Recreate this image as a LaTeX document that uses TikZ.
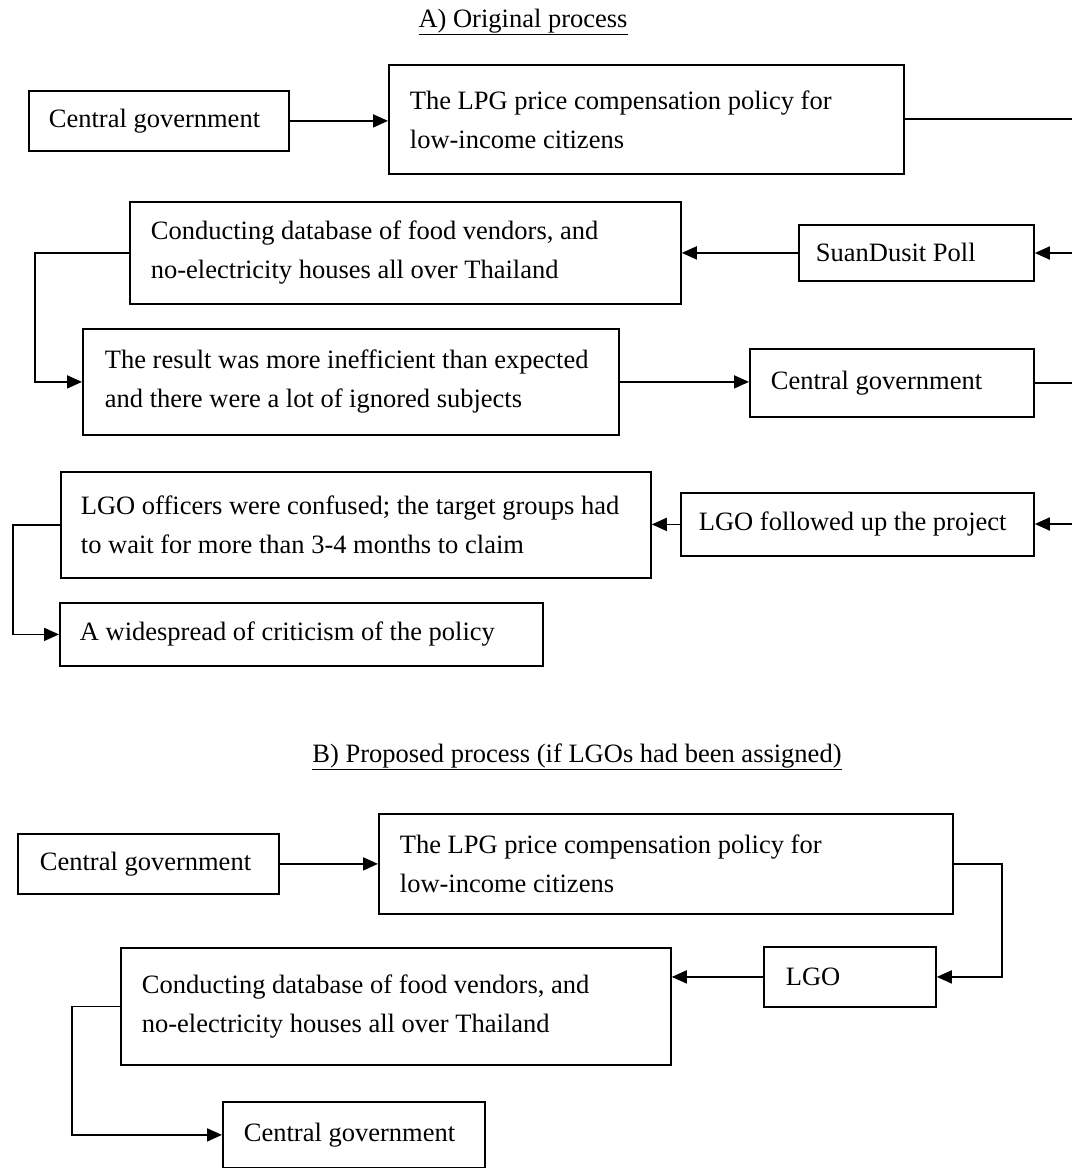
\documentclass[tikz,border=0pt]{standalone}
\usepackage{fontspec}
\setmainfont{Liberation Serif}
\usetikzlibrary{arrows.meta}
\begin{document}
\begin{tikzpicture}[x=1pt,y=-1pt,
  txt/.style={font=\fontsize{26.5}{39}\selectfont},
  box/.style={txt, draw, line width=1.8pt, anchor=north west, align=flush left, inner ysep=0pt,
    execute at begin node={\hyphenpenalty=10000\exhyphenpenalty=10000}},
  conn/.style={line width=1.8pt},
  arr/.style={conn, -{Triangle[length=15pt,width=13pt]}},
  title/.style={txt, anchor=base, inner sep=0pt}]
\useasboundingbox (0,0) rectangle (1072,1168);

% titles
\node[title] (tA) at (523,27) {\underline{A) Original process}};
\node[title] (tB) at (577,762) {\underline{B) Proposed process (if LGOs had been assigned)}};

% A) boxes
\node[box, inner xsep=20pt, text width=220pt, minimum height=60pt] (A1) at (28,90) {Central government};
\node[box, inner xsep=21pt, text width=473pt, minimum height=109pt] (A2) at (388,64) {The LPG price compensation policy for\\low-income citizens};
\node[box, inner xsep=21pt, text width=509pt, minimum height=102pt] (A3) at (129,201) {Conducting database of food vendors, and\\no-electricity houses all over Thailand};
\node[box, inner xsep=17pt, text width=201pt, minimum height=56pt] (A4) at (798,224) {SuanDusit Poll};
\node[box, inner xsep=22pt, text width=492pt, minimum height=106pt] (A5) at (82,328) {The result was more inefficient than expected\\and there were a lot of ignored subjects};
\node[box, inner xsep=21pt, text width=242pt, minimum height=68pt] (A6) at (749,348) {Central government};
\node[box, inner xsep=20pt, text width=550pt, minimum height=106pt] (A7) at (60,471) {LGO officers were confused; the target groups had\\to wait for more than 3-4 months to claim};
\node[box, inner xsep=18pt, text width=317pt, minimum height=63pt] (A8) at (680,492) {LGO followed up the project};
\node[box, inner xsep=20pt, text width=443pt, minimum height=63pt] (A9) at (59,602) {A widespread of criticism of the policy};

% B) boxes
\node[box, inner xsep=22pt, text width=217pt, minimum height=60pt] (B1) at (17,833) {Central government};
\node[box, inner xsep=21pt, text width=532pt, minimum height=100pt] (B2) at (378,813) {The LPG price compensation policy for\\low-income citizens};
\node[box, inner xsep=21pt, text width=508pt, minimum height=117pt] (B3) at (120,947) {Conducting database of food vendors, and\\no-electricity houses all over Thailand};
\node[box, inner xsep=22pt, text width=128pt, minimum height=60pt] (B4) at (763,946) {LGO};
\node[box, inner xsep=21pt, text width=220pt, minimum height=66pt] (B5) at (222,1101) {Central government};

% right-edge free ends
\coordinate (E1) at (1072,119);
\coordinate (E2) at (1072,253);
\coordinate (E3) at (1072,382);
\coordinate (E4) at (1072,524);

% A) connectors
\draw[arr] (A1.east) -- (A2.west |- A1.east);
\draw[conn] (A2.east |- E1) -- (E1);
\draw[arr] (E2) -- (A4.east |- E2);
\draw[arr] (A4.west) -- (A3.east |- A4.west);
\draw[arr] (A3.west) -- ++(-94,0) |- (A5.west);
\draw[arr] (A5.east) -- (A6.west |- A5.east);
\draw[conn] (A6.east) -- (A6.east -| E3);
\draw[arr] (E4) -- (A8.east |- E4);
\draw[arr] (A8.west) -- (A7.east |- A8.west);
\draw[arr] (A7.west) -- ++(-47,0) |- (A9.west);

% B) connectors
\draw[arr] (B1.east) -- (B2.west |- B1.east);
\draw[arr] (B2.east) -- ++(48,0) |- (B4.east);
\draw[arr] (B4.west) -- (B3.east |- B4.west);
\draw[arr] (B3.west) -- ++(-48,0) |- (B5.west);
\end{tikzpicture}
\end{document}
